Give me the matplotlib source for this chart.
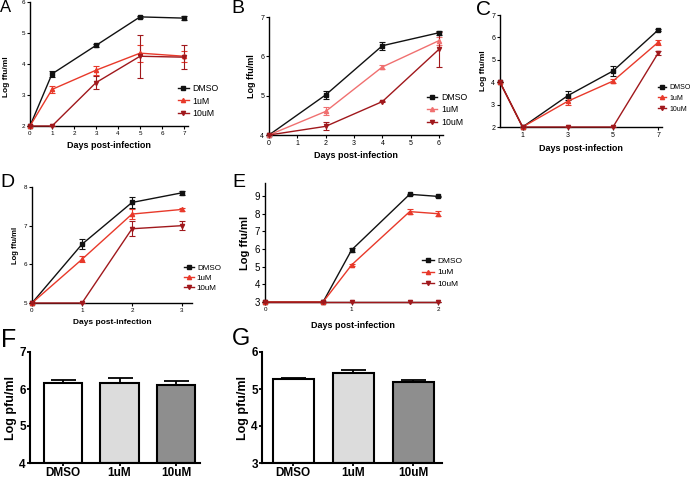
import matplotlib
matplotlib.use("Agg")
import matplotlib.pyplot as plt
from matplotlib.lines import Line2D

plt.rcParams['font.family'] = ['Liberation Sans', 'DejaVu Sans']

W, H = 691, 480

# ---------------- data ----------------
series_names = ["DMSO", "1uM", "10uM"]

a_x = [0, 1, 3, 5, 7]
a_dmso = [2, 3.68, 4.60, 5.52, 5.48]
a_dmso_err = [0, 0.10, 0.04, 0.02, 0.06]
a_1um = [2, 3.18, 3.80, 4.35, 4.25]
a_1um_err = [0, 0.10, 0.15, 0.27, 0.18]
a_10um = [2, 2, 3.40, 4.25, 4.22]
a_10um_err = [0, 0, 0.20, 0.70, 0.38]

b_x = [0, 2, 4, 6]
b_dmso = [4, 5.02, 6.27, 6.60]
b_dmso_err = [0, 0.10, 0.10, 0.05]
b_1um = [4, 4.60, 5.73, 6.40]
b_1um_err = [0, 0.10, 0.05, 0.10]
b_10um = [4, 4.22, 4.85, 6.18]
b_10um_err = [0, 0.10, 0.02, 0.45]

c_x = [0, 1, 3, 5, 7]
c_dmso = [4, 2, 3.40, 4.50, 6.33]
c_dmso_err = [0, 0, 0.20, 0.22, 0.03]
c_1um = [4, 2, 3.15, 4.05, 5.78]
c_1um_err = [0, 0, 0.15, 0.10, 0.12]
c_10um = [4, 2, 2, 2, 5.30]
c_10um_err = [0, 0, 0, 0, 0.08]

d_x = [0, 1, 2, 3]
d_dmso = [5, 6.52, 7.60, 7.85]
d_dmso_err = [0, 0.13, 0.15, 0.05]
d_1um = [5, 6.13, 7.30, 7.42]
d_1um_err = [0, 0.08, 0.12, 0.04]
d_10um = [5, 5, 6.92, 7.00]
d_10um_err = [0, 0, 0.20, 0.12]

e_x = [0, 0.67, 1, 1.67, 2]
e_dmso = [3, 3, 5.95, 9.10, 8.98]
e_dmso_err = [0, 0, 0.12, 0.03, 0.03]
e_1um = [3, 3, 5.10, 8.12, 8.00]
e_1um_err = [0, 0, 0.05, 0.15, 0.15]
e_10um = [3, 3, 3, 3, 3]
e_10um_err = [0, 0, 0, 0, 0]

bar_cats = ["DMSO", "1uM", "10uM"]
f_vals = [6.17, 6.16, 6.12]
f_err = [0.07, 0.15, 0.09]
g_vals = [5.26, 5.42, 5.18]
g_err = [0.04, 0.10, 0.05]

# ---------------- style ----------------
BLACK = "#111111"
RED = "#e8392a"
PINK = "#f07070"
DARK = "#a0181c"
markers = ["s", "^", "v"]

fig = plt.figure(figsize=(W / 100, H / 100), dpi=100)


def px_axes(l, t, r, b):
    return fig.add_axes([l / W, 1 - b / H, (r - l) / W, (b - t) / H])


def style_axes(ax, fs):
    for s in ["top", "right"]:
        ax.spines[s].set_visible(False)
    for s in ["left", "bottom"]:
        ax.spines[s].set_linewidth(1.0)
    ax.tick_params(direction="out", length=2.5, width=0.8, labelsize=fs, pad=1)


def line_panel(ax, x, ys, errs, colors, fs_tick, fs_lab, ylab_fs, xlab_pad=4):
    for y, e, c, m in zip(ys, errs, colors, markers):
        ax.errorbar(x, y, yerr=e, color=c, marker=m, ms=3, lw=1.0,
                    elinewidth=0.8, capsize=2, capthick=0.8, clip_on=False, zorder=3)
    style_axes(ax, fs_tick)
    ax.set_xlabel("Days post-infection", fontsize=fs_lab, fontweight="bold", labelpad=xlab_pad)
    ax.set_ylabel("Log ffu/ml", fontsize=ylab_fs, fontweight="bold", labelpad=3)


def legend_at(ax, colors, x, y, fs, spacing, hl=1.2):
    handles = [Line2D([0], [0], color=c, marker=m, ms=3, lw=1.0) for c, m in zip(colors, markers)]
    ax.legend(handles, series_names, loc="upper left", bbox_to_anchor=(x / W, 1 - y / H),
              bbox_transform=fig.transFigure, frameon=False, fontsize=fs,
              handlelength=hl, handletextpad=0.4, labelspacing=spacing, borderpad=0,
              borderaxespad=0)


# Panel A
axA = px_axes(30, 2, 188, 126)
line_panel(axA, a_x, [a_dmso, a_1um, a_10um], [a_dmso_err, a_1um_err, a_10um_err],
           [BLACK, RED, DARK], 4.5, 6.5, 6)
axA.set_xlim(0, 7.18)
axA.set_ylim(2, 6)
axA.set_xticks(range(0, 8))
axA.set_yticks(range(2, 7))
axA.yaxis.set_label_coords(-0.125, 0.4)
legend_at(axA, [BLACK, RED, DARK], 178, 84, 6.3, 0.4)

# Panel B
axB = px_axes(269, 17, 443, 135)
line_panel(axB, b_x, [b_dmso, b_1um, b_10um], [b_dmso_err, b_1um_err, b_10um_err],
           [BLACK, PINK, DARK], 5, 6.5, 6.5, xlab_pad=3)
axB.set_xlim(0, 6.14)
axB.set_ylim(4, 7)
axB.set_xticks(range(0, 7))
axB.set_yticks(range(4, 8))
legend_at(axB, [BLACK, PINK, DARK], 427, 93, 6.3, 0.4)

# Panel C
axC = px_axes(500, 15, 662, 127)
line_panel(axC, c_x, [c_dmso, c_1um, c_10um], [c_dmso_err, c_1um_err, c_10um_err],
           [BLACK, RED, DARK], 5, 6.5, 6, xlab_pad=3.5)
axC.set_xlim(0, 7.17)
axC.set_ylim(2, 7)
axC.set_xticks([1, 3, 5, 7])
axC.set_yticks(range(2, 8))
legend_at(axC, [BLACK, RED, DARK], 658, 84, 5.0, 0.55, hl=1.2)

# Panel D
axD = px_axes(32, 187, 192, 303)
line_panel(axD, d_x, [d_dmso, d_1um, d_10um], [d_dmso_err, d_1um_err, d_10um_err],
           [BLACK, RED, DARK], 4.5, 6, 5.5, xlab_pad=4.5)
axD.set_xlim(0, 3.2)
axD.set_ylim(5, 8)
axD.set_xticks(range(0, 4))
axD.set_yticks(range(5, 9))
legend_at(axD, [BLACK, RED, DARK], 184, 264, 5.8, 0.3)

# Panel E
axE = px_axes(265, 183, 440, 302)
line_panel(axE, e_x, [e_dmso, e_1um, e_10um], [e_dmso_err, e_1um_err, e_10um_err],
           [BLACK, RED, DARK], 7, 6.5, 8, xlab_pad=6.5)
axE.set_xlim(0, 2.02)
axE.set_ylim(3, 9.74)
axE.set_xticks([0, 1, 2])
axE.set_yticks(range(3, 10))
axE.tick_params(axis="x", labelsize=4.5)
legend_at(axE, [BLACK, RED, DARK], 422, 257, 6.0, 0.45, hl=1.5)

# Bar panels
bar_colors = ["#ffffff", "#dcdcdc", "#8e8e8e"]


def bar_panel(ax, vals, errs, ylo, yhi):
    xs = list(range(len(vals)))
    ax.bar(xs, [v - ylo for v in vals], bottom=ylo, width=0.68, color=bar_colors,
           edgecolor="black", linewidth=1.5, zorder=2)
    ax.errorbar(xs, vals, yerr=[[0] * len(errs), errs], fmt="none", ecolor="black",
                elinewidth=1.3, capsize=9, capthick=1.3, zorder=1)
    for s in ["top", "right"]:
        ax.spines[s].set_visible(False)
    for s in ["left", "bottom"]:
        ax.spines[s].set_linewidth(1.5)
    ax.set_ylim(ylo, yhi)
    ax.set_yticks(range(ylo, yhi + 1))
    ax.set_xticks(xs)
    ax.set_xticklabels(bar_cats)
    ax.tick_params(direction="out", length=2.5, width=1.3, labelsize=8.5, pad=0.5)
    for lab in ax.get_xticklabels() + ax.get_yticklabels():
        lab.set_fontweight("bold")
    ax.set_ylabel("Log pfu/ml", fontsize=9, fontweight="bold", labelpad=1.5)


axF = px_axes(30, 352, 200, 463)
bar_panel(axF, f_vals, f_err, 4, 7)
axF.set_xlim(-0.58, 2.42)

axG = px_axes(262, 352, 442, 463)
bar_panel(axG, g_vals, g_err, 3, 6)
axG.set_xlim(-0.52, 2.48)

# Panel letters
letters = [("A", 0, 0, 12), ("B", 231, 0, 14), ("C", 476, 0, 15),
           ("D", 0, 174, 14), ("E", 232, 174, 14), ("F", 1, 328, 18), ("G", 232, 328, 17)]
for t, x, y, fs in letters:
    fig.text(x / W, 1 - y / H, t, fontsize=fs, va="top", ha="left")

fig.savefig("out.png", dpi=100)
